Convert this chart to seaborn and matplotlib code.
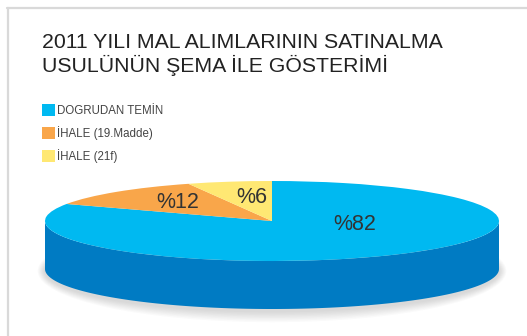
import numpy as np
import matplotlib
matplotlib.use("Agg")
import matplotlib.pyplot as plt
from matplotlib.patches import Ellipse, Rectangle
from matplotlib.lines import Line2D
import seaborn as sns

# --- data -------------------------------------------------------------
categories = ["DOGRUDAN TEMİN", "İHALE (19.Madde)", "İHALE (21f)"]
shares = [82, 12, 6]
top_colors = ["#00B9F1", "#F9A64A", "#FFE873"]
side_colors = ["#007BC3", "#C97F2E", "#D9C050"]
title_lines = ["2011 YILI MAL ALIMLARININ SATINALMA",
               "USULÜNÜN ŞEMA İLE GÖSTERİMİ"]

sns.set_theme(style="white")
plt.rcParams["font.family"] = ["Liberation Sans", "DejaVu Sans"]

W, H = 527, 336
fig = plt.figure(figsize=(W / 100, H / 100), dpi=100)
fig.patch.set_facecolor("white")


def fx(px):
    return px / W


def fy(py):
    return 1 - py / H


# light frame along the top and left edges
fig.add_artist(Line2D([fx(7), fx(527)], [fy(8), fy(8)], color="#D9D9D9", lw=1.6))
fig.add_artist(Line2D([fx(8), fx(8)], [fy(8), fy(336)], color="#D9D9D9", lw=1.6))

# title
for i, line in enumerate(title_lines):
    fig.text(fx(42), fy(48.5 + 23.5 * i), line, fontsize=15.3, color="#222222",
             ha="left", va="baseline")

# legend
for i, (name, col) in enumerate(zip(categories, top_colors)):
    top = 103.5 + 23 * i
    fig.add_artist(Rectangle((fx(42), fy(top + 12.5)), 12.5 / W, 12.5 / H,
                             transform=fig.transFigure, facecolor=col,
                             edgecolor="none"))
    fig.text(fx(57), fy(top + 10.5), name, fontsize=8.3, color="#444444",
             ha="left", va="baseline")

# --- 3D pie -----------------------------------------------------------
cx, cy = 272, 221          # centre of the top face (px)
rx, ry = 227, 40           # radii of the top face (px)
depth = 48 / ry            # side height in data units

ax = fig.add_axes([0, 0, 1, 1])
ax.set_facecolor("none")

# soft shadow just under the disc
for k in range(8, 0, -1):
    ax.add_patch(Ellipse((0.0, -depth - 0.05), 2 * (1.0 + 0.004 * k),
                         2 * (1.0 + 0.035 * k), facecolor="#666666",
                         edgecolor="none", alpha=0.03, zorder=0))

# side walls of each wedge where they face the viewer
total = sum(shares)
start = 90.0
for val, scol in zip(shares, side_colors):
    sweep = 360.0 * val / total
    a_hi, a_lo = start, start - sweep      # clockwise
    start = a_lo
    for base in (-360.0, 0.0, 360.0):
        lo = max(a_lo, 180.0 + base)
        hi = min(a_hi, 360.0 + base)
        if hi > lo:
            t = np.radians(np.linspace(lo, hi, 200))
            xs = np.concatenate([np.cos(t), np.cos(t[::-1])])
            ys = np.concatenate([np.sin(t), np.sin(t[::-1]) - depth])
            ax.fill(xs, ys, color=scol, lw=0, zorder=1)

wedges, _ = ax.pie(shares, colors=top_colors, startangle=90,
                   counterclock=False, radius=1,
                   wedgeprops=dict(linewidth=0), frame=False)
for w in wedges:
    w.set_zorder(2)

# percentage labels
label_xy = [(0.366, -0.225), (-0.416, 0.318), (-0.089, 0.46)]
for val, (lx, ly) in zip(shares, label_xy):
    ax.text(lx, ly, f"%{val}", fontsize=15.5, color="#333333",
            ha="center", va="baseline", zorder=3)

ax.set_aspect("auto")
ax.set_xlim(-cx / rx, (W - cx) / rx)
ax.set_ylim(-(H - cy) / ry, cy / ry)
ax.axis("off")

fig.savefig("out.png", dpi=100)
